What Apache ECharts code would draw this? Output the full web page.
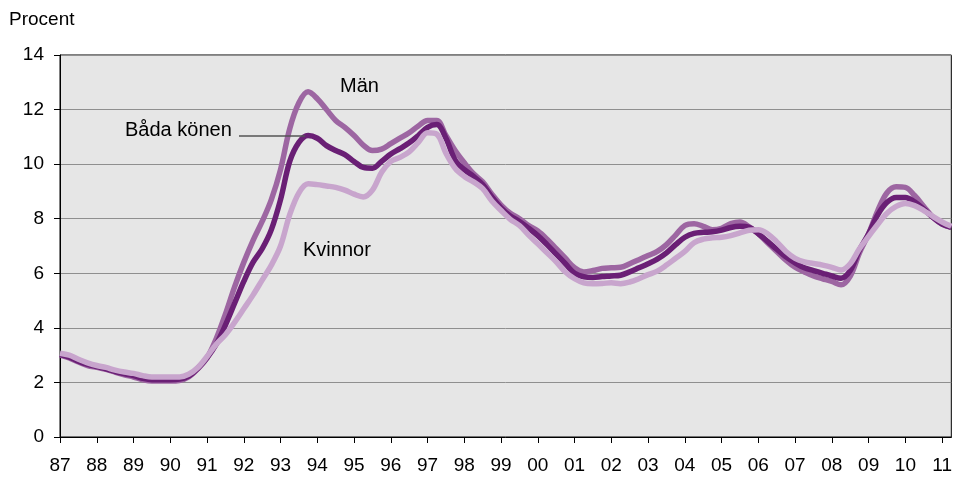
<!DOCTYPE html>
<html>
<head>
<meta charset="utf-8">
<script src="https://cdn.jsdelivr.net/npm/echarts@6/dist/echarts.min.js"></script>
<style>
  html, body { margin: 0; padding: 0; background: #fff; }
  #chart { width: 955px; height: 478px; }
</style>
</head>
<body>
<div id="chart"></div>
<script>
// quarterly values, first point = 1987 Q1
var startYear = 1987;
var yearTicks = [1987, 1988, 1989, 1990, 1991, 1992, 1993, 1994, 1995, 1996, 1997, 1998,
  1999, 2000, 2001, 2002, 2003, 2004, 2005, 2006, 2007, 2008, 2009, 2010, 2011];

var man = [
  3.0, 2.9, 2.75, 2.62, 2.55, 2.48, 2.38, 2.28, 2.2, 2.1, 2.05, 2.05, 2.05, 2.07, 2.2, 2.5,
  2.9, 3.6, 4.5, 5.5, 6.4, 7.2, 7.9, 8.7, 9.8, 11.3, 12.25, 12.65,
  12.4, 12.0, 11.6, 11.35, 11.05, 10.7, 10.5, 10.55, 10.75, 10.95, 11.15, 11.4,
  11.6, 11.6, 11.05, 10.5, 10.05, 9.65, 9.35, 8.9, 8.5, 8.2, 8.0, 7.75,
  7.55, 7.25, 6.9, 6.55, 6.2, 6.05, 6.1, 6.18, 6.2, 6.22, 6.35, 6.5,
  6.65, 6.8, 7.05, 7.4, 7.75, 7.82, 7.72, 7.6, 7.65, 7.82, 7.88, 7.7,
  7.45, 7.12, 6.8, 6.48, 6.22, 6.05, 5.9, 5.8, 5.7, 5.58, 5.9, 6.75,
  7.45, 8.3, 8.95, 9.17, 9.15, 8.85, 8.45, 8.05, 7.8, 7.68
];
var bada = [
  3.02, 2.93, 2.78, 2.66, 2.58, 2.5, 2.4, 2.32, 2.25, 2.15, 2.1, 2.1, 2.1, 2.12, 2.23, 2.52,
  2.9, 3.4, 4.1, 4.9, 5.7, 6.4, 6.9, 7.6, 8.7, 10.1, 10.8, 11.05,
  10.95, 10.68, 10.5, 10.35, 10.1, 9.88, 9.85, 10.1, 10.37, 10.57, 10.78, 11.05,
  11.35, 11.45, 10.95, 10.15, 9.8, 9.55, 9.25, 8.8, 8.4, 8.1, 7.9, 7.65,
  7.38, 7.05, 6.7, 6.35, 6.0, 5.87, 5.85, 5.88, 5.9, 5.93, 6.05, 6.2,
  6.35, 6.52, 6.75, 7.05, 7.32, 7.46, 7.5, 7.52, 7.58, 7.68, 7.72, 7.68,
  7.45, 7.17, 6.88, 6.6, 6.38, 6.2, 6.1, 6.0, 5.9, 5.82, 6.1, 6.85,
  7.45, 8.15, 8.6, 8.78, 8.78, 8.62, 8.35, 8.05, 7.8, 7.68
];
var kvinnor = [
  3.07, 3.0, 2.85, 2.72, 2.62, 2.55, 2.45, 2.38, 2.33, 2.25, 2.2, 2.2, 2.2, 2.2, 2.3, 2.55,
  2.95, 3.4, 3.75, 4.2, 4.7, 5.2, 5.75, 6.3, 7.0, 8.15, 8.95, 9.28,
  9.25, 9.2, 9.15, 9.05, 8.9, 8.8, 9.05, 9.7, 10.1, 10.25, 10.45, 10.8,
  11.15, 11.1, 10.4, 9.85, 9.55, 9.35, 9.1, 8.65, 8.3, 7.98, 7.75, 7.4,
  7.08, 6.75, 6.42, 6.05, 5.8, 5.65, 5.62, 5.63, 5.65, 5.62, 5.68, 5.8,
  5.95, 6.08, 6.3, 6.55, 6.8, 7.12, 7.25, 7.3, 7.32, 7.38, 7.48, 7.58,
  7.6, 7.45, 7.15, 6.8, 6.55, 6.42, 6.36, 6.3, 6.22, 6.12, 6.35, 6.9,
  7.35, 7.8, 8.2, 8.45, 8.56, 8.48, 8.3, 8.08, 7.88, 7.72
];

function pairs(values) {
  return values.map(function (v, i) { return [startYear + i / 4, v]; });
}

var font = 'Liberation Sans, Arial, sans-serif';
var chart = echarts.init(document.getElementById('chart'));

chart.setOption({
  animation: false,
  grid: {
    left: 60, right: 3, top: 55, bottom: 41,
    show: true,
    backgroundColor: '#e6e6e6',
    borderColor: '#000',
    borderWidth: 1
  },
  xAxis: {
    type: 'value',
    min: 1987,
    max: 2011.25,
    interval: 1,
    axisLine: { lineStyle: { color: '#000', width: 1 } },
    axisTick: { show: true, length: 6, customValues: yearTicks, lineStyle: { color: '#000' } },
    splitLine: { show: false },
    axisLabel: {
      customValues: yearTicks,
      margin: 19,
      color: '#000',
      fontFamily: font,
      fontSize: 19,
      formatter: function (v) { return String(v).slice(2); }
    }
  },
  yAxis: {
    type: 'value',
    min: 0,
    max: 14,
    interval: 2,
    axisLine: { show: true, lineStyle: { color: '#000', width: 1 } },
    axisTick: { show: true, length: 6, lineStyle: { color: '#000' } },
    splitLine: { show: true, lineStyle: { color: '#8f8f8f', width: 1 } },
    axisLabel: { margin: 16, color: '#000', fontFamily: font, fontSize: 19 }
  },
  series: [
    {
      name: 'Män', type: 'line', data: pairs(man), smooth: 0.35, showSymbol: false,
      lineStyle: { color: '#9d66a2', width: 5.5 }, z: 3
    },
    {
      name: 'Båda könen', type: 'line', data: pairs(bada), smooth: 0.35, showSymbol: false,
      lineStyle: { color: '#6a1f75', width: 5.5 }, z: 4
    },
    {
      name: 'Kvinnor', type: 'line', data: pairs(kvinnor), smooth: 0.35, showSymbol: false,
      lineStyle: { color: '#c8a5cd', width: 5.5 }, z: 5
    }
  ],
  graphic: [
    { type: 'text', left: 9, top: 10, style: { text: 'Procent', fill: '#000', font: '19px ' + font } },
    { type: 'text', left: 340, top: 76, style: { text: 'Män', fill: '#000', font: '20px ' + font } },
    { type: 'text', left: 125, top: 120, style: { text: 'Båda könen', fill: '#000', font: '20px ' + font } },
    { type: 'text', left: 303, top: 240, style: { text: 'Kvinnor', fill: '#000', font: '20px ' + font } },
    { type: 'line', shape: { x1: 239, y1: 136, x2: 305, y2: 136 }, style: { stroke: '#555', lineWidth: 1.5 }, z: 10 }
  ]
});
</script>
</body>
</html>
